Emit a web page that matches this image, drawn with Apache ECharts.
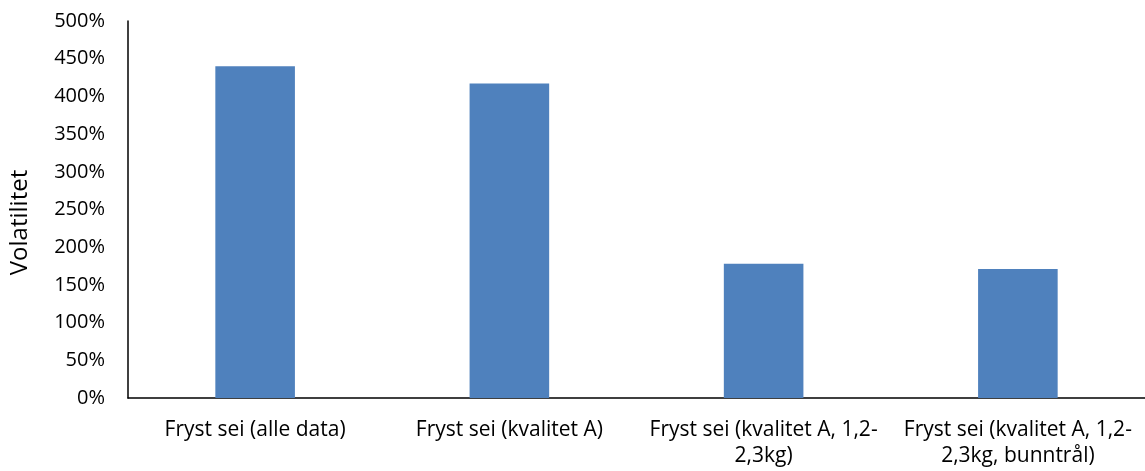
<!DOCTYPE html>
<html>
<head>
<meta charset="utf-8">
<script src="https://cdn.jsdelivr.net/npm/echarts@6/dist/echarts.min.js"></script>
<style>
html,body{margin:0;padding:0;background:#fff;}
#chart{width:1145px;height:471px;}
</style>
</head>
<body>
<div id="chart"></div>
<script>
const categories = [
  "Fryst sei (alle data)",
  "Fryst sei (kvalitet A)",
  "Fryst sei (kvalitet A, 1,2-\n2,3kg)",
  "Fryst sei (kvalitet A, 1,2-\n2,3kg, bunntrål)"
];
const volatility = [440, 417, 178, 171];
const yTicks = { min: 0, max: 500, interval: 50 };
const yTitle = "Volatilitet";

const chart = echarts.init(document.getElementById('chart'));
chart.setOption({
  animation: false,
  textStyle: { fontFamily: 'Open Sans' },
  grid: { left: 126, right: -7, top: 21, bottom: 73, containLabel: false },
  xAxis: {
    type: 'category',
    data: categories,
    axisLine: { lineStyle: { color: '#000', width: 1.5 } },
    axisTick: { show: false },
    axisLabel: { color: '#000', fontSize: 21, lineHeight: 26, margin: 19, interval: 0, fontFamily: 'Open Sans' }
  },
  yAxis: {
    type: 'value',
    min: yTicks.min, max: yTicks.max, interval: yTicks.interval,
    name: yTitle,
    nameLocation: 'middle',
    nameGap: 96,
    nameTextStyle: { color: '#000', fontSize: 24, fontFamily: 'Open Sans', padding: [0, 26, 0, 0] },
    axisLine: { show: true, lineStyle: { color: '#000', width: 1.5 } },
    axisTick: { show: false },
    splitLine: { show: false },
    axisLabel: { color: '#000', fontSize: 20, margin: 23, formatter: v => v + '%', fontFamily: 'Open Sans' }
  },
  series: [{
    type: 'bar',
    data: volatility,
    barWidth: '31.3%',
    itemStyle: { color: '#4F81BD' }
  }]
});
</script>
</body>
</html>
